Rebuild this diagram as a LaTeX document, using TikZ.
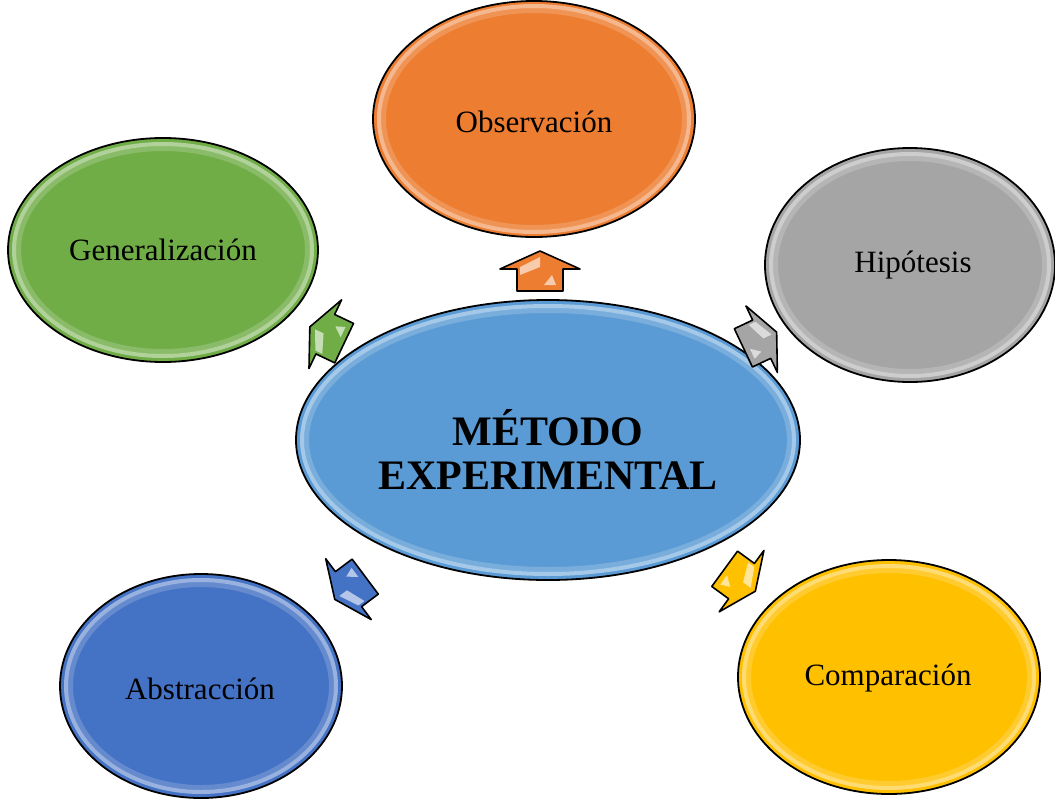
\documentclass[tikz,border=0pt]{standalone}
\usepackage{fontspec}
\setmainfont{Liberation Serif}
\usetikzlibrary{shapes.geometric}
\definecolor{cCenter}{HTML}{5B9BD5}
\definecolor{cOrange}{HTML}{ED7D31}
\definecolor{cGreen}{HTML}{70AD47}
\definecolor{cGray}{HTML}{A5A5A5}
\definecolor{cBlue}{HTML}{4472C4}
\definecolor{cGold}{HTML}{FFC000}
\tikzset{
  bubble/.style={ellipse, draw=black, line width=1.8pt, inner sep=0pt, align=center,
    font=\fontsize{31}{36}\selectfont},
  glowa/.style={white, opacity=0.45, line width=4pt},
  glowb/.style={white, opacity=0.18, line width=5pt},
  arrowbox/.style={draw=black, line width=1.6pt, line join=round},
  shine/.style={white, opacity=0.6},
  label/.style={font=\fontsize{31}{36}\selectfont}
}
\newcommand\myglow[3]{%
  \draw[glowa] (#1.center) ellipse [x radius=#2pt, y radius=#3pt];
  \draw[glowb] (#1.center) ellipse [x radius=#2pt-4.5pt, y radius=#3pt-4.5pt];}
\newcommand\myarrow[5]{%
  \begin{scope}[shift={(#1,#2)},rotate=#3,scale=#4]
    \filldraw[arrowbox, fill=#5] (20,0) -- (2,40) -- (2,23) -- (-20,23) -- (-20,-23) -- (2,-23) -- (2,-40) -- cycle;
    \fill[shine] (14,0) -- (4,20) -- (-4,20) -- (4,0) -- cycle;
    \fill[shine] (-4,-12) -- (-14,-16) -- (-14,-4) -- cycle;
  \end{scope}}
\begin{document}
\begin{tikzpicture}[x=1pt,y=1pt]
\useasboundingbox (0,0) rectangle (1055,-798);
% outer bubbles
\node[bubble, fill=cOrange, minimum width=322pt, minimum height=236pt] (obs) at (534,-119) {};
\node[bubble, fill=cGreen, minimum width=310pt, minimum height=224pt] (gen) at (163,-250) {};
\node[bubble, fill=cGray, minimum width=290pt, minimum height=234pt] (hip) at (910,-265) {};
\node[bubble, fill=cBlue, minimum width=282pt, minimum height=224pt] (abs) at (201,-686) {};
\node[bubble, fill=cGold, minimum width=302pt, minimum height=234pt] (com) at (889,-677) {};
\node[bubble, fill=cCenter, minimum width=504pt, minimum height=280pt] (c) at (548,-440) {};
\myglow{obs}{155}{113}
\myglow{gen}{149}{106}
\myglow{hip}{139}{111}
\myglow{abs}{135}{106}
\myglow{com}{145}{111}
\myglow{c}{246}{134}
% labels
\node[label] (tobs) at (534,-122) {Observación};
\node[label] (tgen) at (163,-250) {Generalización};
\node[label] (thip) at (913,-265) {Hipótesis};
\node[label] (tabs) at (200,-689) {Abstracción};
\node[label] (tcom) at (888,-678) {Comparación};
\node[align=center, font=\bfseries\fontsize{42}{44}\selectfont] (tc) at (548,-449) {MÉTODO\\EXPERIMENTAL};
% block arrows
\myarrow{540}{-271}{90}{1}{cOrange}
\myarrow{327}{-335}{154.6}{0.95}{cGreen}
\myarrow{760}{-340}{25.3}{0.92}{cGray}
\myarrow{350}{-588}{216.8}{0.95}{cBlue}
\myarrow{740}{-580}{-36.1}{0.95}{cGold}
\end{tikzpicture}
\end{document}
